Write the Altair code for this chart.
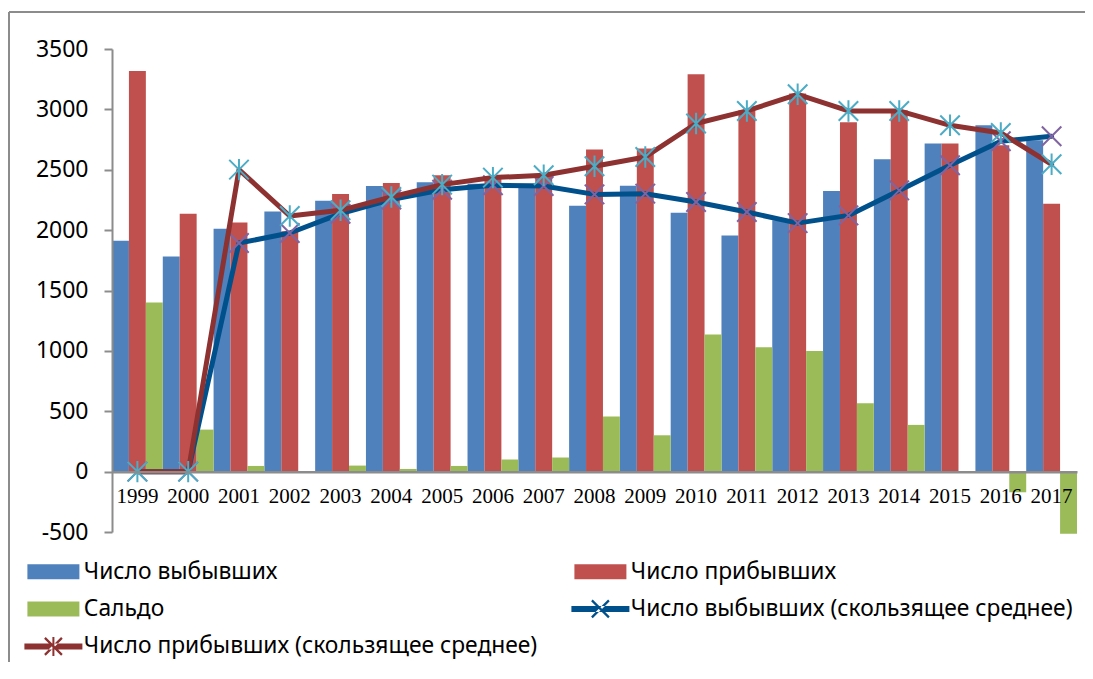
import altair as alt
import pandas as pd

years = [str(y) for y in range(1999, 2018)]
out_count = [1912, 1782, 2012, 2155, 2244, 2365, 2396, 2385, 2385, 2202, 2368, 2144, 1956, 2081, 2324, 2587, 2717, 2868, 2744]
in_count = [3318, 2136, 2064, 1990, 2299, 2390, 2454, 2426, 2454, 2667, 2675, 3291, 2993, 3131, 2893, 2993, 2717, 2703, 2219]
saldo = [1401, 348, 47, 0, 50, 22, 47, 100, 116, 456, 301, 1136, 1031, 1000, 566, 387, 0, -171, -514]
ma_out = [0, 0, 1893, 1976, 2136, 2253, 2335, 2371, 2365, 2296, 2302, 2233, 2150, 2058, 2122, 2329, 2537, 2736, 2777]
ma_in = [0, 0, 2501, 2117, 2164, 2274, 2377, 2435, 2454, 2529, 2606, 2883, 2987, 3125, 2987, 2987, 2868, 2805, 2545]

S_OUT = "Число выбывших"
S_IN = "Число прибывших"
S_SAL = "Сальдо"
S_MAO = "Число выбывших (скользящее среднее)"
S_MAI = "Число прибывших (скользящее среднее)"
series_order = [S_OUT, S_IN, S_SAL, S_MAO, S_MAI]
# legend fills column by column: left column first, then right column
legend_order = [S_OUT, S_SAL, S_MAI, S_IN, S_MAO]
colors = ["#4F81BD", "#C0504D", "#9BBB59", "#00508C", "#8E3131"]
marker_out_color = "#8064A2"
marker_in_color = "#4BACC6"

bars = pd.DataFrame(
    [{"year": y, "series": S_OUT, "value": v} for y, v in zip(years, out_count)]
    + [{"year": y, "series": S_IN, "value": v} for y, v in zip(years, in_count)]
    + [{"year": y, "series": S_SAL, "value": v} for y, v in zip(years, saldo)]
)
lines_out = pd.DataFrame({"year": years, "value": ma_out, "series": S_MAO})
lines_in = pd.DataFrame({"year": years, "value": ma_in, "series": S_MAI})

W, H = 965, 483
PAD_L, PAD_T, PAD_R, PAD_B = 104, 41, 8, 130
Y_MIN, Y_MAX = -500, 3500
zero_offset = -H * (0 - Y_MIN) / (Y_MAX - Y_MIN)

FONT = "Noto Sans"
color_scale = alt.Scale(domain=series_order, range=colors)
x_scale = alt.Scale(domain=years, paddingInner=0, paddingOuter=0)
y_scale = alt.Scale(domain=[Y_MIN, Y_MAX], nice=False, zero=False)

# marker shapes (unit square -1..1)
X_PATH = "M-1,-1L1,1M-1,1L1,-1"
STAR_PATH = "M-1,-1L1,1M-1,1L1,-1M0,-1.1L0,1.1"


# legend symbols (filled polygons), unit = 10px (symbolSize 400)
def arm(a, o, sign):
    if sign > 0:
        pts = [(-a + o, -a - o), (a + o, a - o), (a - o, a + o), (-a - o, -a + o)]
    else:
        pts = [(-a + o, a + o), (a + o, -a + o), (a - o, -a - o), (-a - o, a - o)]
    return "M" + "L".join(f"{x:.3f},{y:.3f}" for x, y in pts) + "Z"


BAR_SYM = "M-2.6,-0.75H2.6V0.75H-2.6Z"
LINE_SYM = "M-2.9,-0.3H2.9V0.3H-2.9Z"
LEG_X = arm(0.85, 0.08, 1) + arm(0.85, 0.08, -1)
LEG_STAR = LEG_X + "M-0.1,-0.95H0.1V0.95H-0.1Z"
shape_range = [BAR_SYM, BAR_SYM, BAR_SYM, LINE_SYM + LEG_X, LINE_SYM + LEG_STAR]
shape_scale = alt.Scale(domain=series_order, range=shape_range)

legend = alt.Legend(
    orient="none",
    legendX=-70,
    legendY=511,
    columns=2,
    values=legend_order,
    title=None,
    padding=0,
    labelFont=FONT,
    labelFontSize=22.8,
    labelColor="#000000",
    labelLimit=800,
    labelOffset=19,
    symbolSize=400,
    symbolStrokeWidth=0,
    symbolOpacity=1,
    columnPadding=33,
    rowPadding=13.5,
)

x_enc = alt.X(
    "year:N",
    scale=x_scale,
    sort=years,
    axis=alt.Axis(
        title=None,
        labelAngle=0,
        ticks=False,
        offset=zero_offset,
        domainColor="#8C8C8C",
        domainWidth=2.5,
        labelFont="Liberation Serif",
        labelFontSize=21,
        labelColor="#000000",
        labelPadding=14,
        zindex=1,
    ),
)
y_enc = alt.Y(
    "value:Q",
    scale=y_scale,
    axis=alt.Axis(
        title=None,
        values=list(range(Y_MIN, Y_MAX + 1, 500)),
        labelExpr="'' + datum.value",
        grid=False,
        domainColor="#8C8C8C",
        domainWidth=2,
        tickColor="#8C8C8C",
        tickWidth=2,
        tickSize=8,
        labelFont=FONT,
        labelFontSize=23,
        labelColor="#000000",
        labelPadding=16,
        zindex=1,
    ),
)

bar_layer = alt.Chart(bars).mark_bar().encode(
    x=x_enc,
    xOffset=alt.XOffset("series:N", sort=[S_OUT, S_IN, S_SAL], scale=alt.Scale(paddingInner=0, paddingOuter=0)),
    y=y_enc,
    color=alt.Color("series:N", scale=color_scale, legend=legend),
)

line_out_layer = alt.Chart(lines_out).mark_line(strokeWidth=5, strokeJoin="round", strokeCap="round").encode(
    x=alt.X("year:N", sort=years), y="value:Q",
    color=alt.Color("series:N", scale=color_scale, legend=legend),
)
pts_out_layer = alt.Chart(lines_out).mark_point(
    shape=X_PATH, filled=False, size=380, strokeWidth=2, color=marker_out_color, opacity=1
).encode(x=alt.X("year:N", sort=years), y="value:Q")

line_in_layer = alt.Chart(lines_in).mark_line(strokeWidth=5, strokeJoin="round", strokeCap="round").encode(
    x=alt.X("year:N", sort=years), y="value:Q",
    color=alt.Color("series:N", scale=color_scale, legend=legend),
)
pts_in_layer = alt.Chart(lines_in).mark_point(
    shape=STAR_PATH, filled=False, size=380, strokeWidth=2, color=marker_in_color, opacity=1
).encode(x=alt.X("year:N", sort=years), y="value:Q")

# legend-only layer (no data drawn; explicit domains give all five entries)
legend_layer = alt.Chart(bars).transform_filter("false").mark_point(filled=True, opacity=1).encode(
    x=alt.X("year:N", sort=years), y="value:Q",
    color=alt.Color("series:N", scale=color_scale, legend=legend),
    shape=alt.Shape("series:N", scale=shape_scale, legend=legend),
)

frame_top = alt.Chart(bars).mark_rule(color="#8C8C8C", strokeWidth=1.5).encode(
    x=alt.value(-103), x2=alt.value(W + PAD_R), y=alt.value(-37)
)
frame_left = alt.Chart(bars).mark_rule(color="#8C8C8C", strokeWidth=1.5).encode(
    x=alt.value(-103), y=alt.value(-37), y2=alt.value(H + PAD_B)
)

chart = (
    alt.layer(frame_top, frame_left, bar_layer, line_out_layer, pts_out_layer, line_in_layer, pts_in_layer, legend_layer)
    .resolve_scale(color="shared")
    .properties(
        width=W,
        height=H,
        autosize=alt.AutoSizeParams(type="none"),
        padding={"left": PAD_L, "top": PAD_T, "right": PAD_R, "bottom": PAD_B},
        background="#FFFFFF",
    )
    .configure_view(strokeWidth=0)
)

chart.save("out.html", embed_options={"renderer": "svg", "actions": False})
